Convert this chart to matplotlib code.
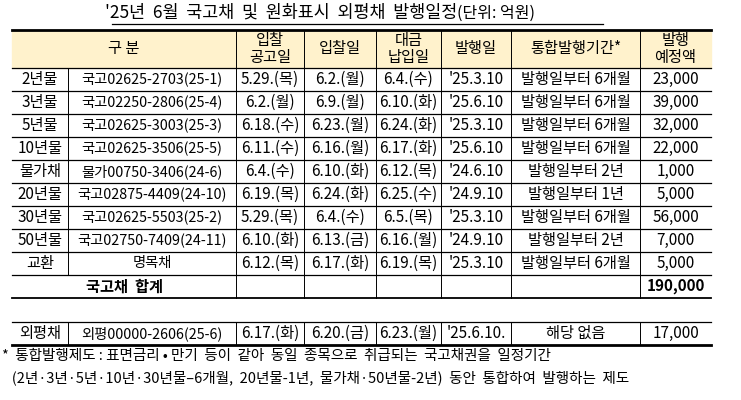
import matplotlib.pyplot as plt
from matplotlib.patches import Rectangle

plt.rcParams['font.family'] = ['Noto Sans CJK KR', 'DejaVu Sans']

title = "'25년  6월  국고채  및  원화표시  외평채  발행일정"
unit = "(단위: 억원)"
headers = ["구 분", "입찰\n공고일", "입찰일", "대금\n납입일", "발행일", "통합발행기간*", "발행\n예정액"]

terms = ["2년물", "3년물", "5년물", "10년물", "물가채", "20년물", "30년물", "50년물", "교환"]
issues = ["국고02625-2703(25-1)", "국고02250-2806(25-4)", "국고02625-3003(25-3)",
          "국고02625-3506(25-5)", "물가00750-3406(24-6)", "국고02875-4409(24-10)",
          "국고02625-5503(25-2)", "국고02750-7409(24-11)", "명목채"]
announce = ["5.29.(목)", "6.2.(월)", "6.18.(수)", "6.11.(수)", "6.4.(수)", "6.19.(목)",
            "5.29.(목)", "6.10.(화)", "6.12.(목)"]
auction = ["6.2.(월)", "6.9.(월)", "6.23.(월)", "6.16.(월)", "6.10.(화)", "6.24.(화)",
           "6.4.(수)", "6.13.(금)", "6.17.(화)"]
payment = ["6.4.(수)", "6.10.(화)", "6.24.(화)", "6.17.(화)", "6.12.(목)", "6.25.(수)",
           "6.5.(목)", "6.16.(월)", "6.19.(목)"]
issue_date = ["'25.3.10", "'25.6.10", "'25.3.10", "'25.6.10", "'24.6.10", "'24.9.10",
              "'25.3.10", "'24.9.10", "'25.3.10"]
period = ["발행일부터 6개월", "발행일부터 6개월", "발행일부터 6개월", "발행일부터 6개월",
          "발행일부터 2년", "발행일부터 1년", "발행일부터 6개월", "발행일부터 2년", "발행일부터 6개월"]
amount = ["23,000", "39,000", "32,000", "22,000", "1,000", "5,000", "56,000", "7,000", "5,000"]
total_label = "국고채  합계"
total_amount = "190,000"
fx_row = ["외평채", "외평00000-2606(25-6)", "6.17.(화)", "6.20.(금)", "6.23.(월)",
          "'25.6.10.", "해당 없음", "17,000"]
notes = ["*  통합발행제도 : 표면금리 • 만기  등이  같아  동일  종목으로  취급되는  국고채권을  일정기간",
         "   (2년·3년·5년·10년·30년물–6개월,  20년물-1년,  물가채·50년물-2년)  동안  통합하여  발행하는  제도"]

W, H = 741, 400
xs = [12, 68, 236, 304, 376, 441, 511, 640, 711]
hdr_top, hdr_bot, row_h = 30, 68, 23
fs = 11

fig = plt.figure(figsize=(W / 100, H / 100), dpi=100)
ax = fig.add_axes([0, 0, 1, 1])
ax.set_xlim(0, W)
ax.set_ylim(H, 0)
ax.axis('off')

def hline(y, lw=0.9):
    ax.plot([xs[0], xs[-1]], [y, y], color='black', lw=lw)

def vline(x, y0, y1):
    ax.plot([x, x], [y0, y1], color='black', lw=0.7)

def cell(i0, i1, y, s, size=fs, **kw):
    ax.text((xs[i0] + xs[i1]) / 2, y, s, ha='center', va='center', fontsize=size, **kw)

# title
ax.text(457, 13, title, ha='right', va='center', fontsize=12.5)
ax.text(457, 13, unit, ha='left', va='center', fontsize=11.5)
ax.plot([112, 603], [24, 24], color='black', lw=0.9)

# header
ax.add_patch(Rectangle((xs[0], hdr_top), xs[-1] - xs[0], hdr_bot - hdr_top, color='#FFF2CC', zorder=0))
hline(hdr_top, 2)
hline(hdr_bot)
hy = (hdr_top + hdr_bot) / 2
cell(0, 2, hy, headers[0])
for k in range(1, 7):
    vline(xs[k + 1], hdr_top, hdr_bot)
    cell(k + 1, k + 2, hy, headers[k], linespacing=1.05)

# body rows
cols = [terms, issues, announce, auction, payment, issue_date, period, amount]
y = hdr_bot
for r in range(len(terms)):
    yc = y + row_h / 2
    for c, col in enumerate(cols):
        cell(c, c + 1, yc, col[r], size=10.3 if c == 1 else fs)
    for k in range(1, 8):
        vline(xs[k], y, y + row_h)
    y += row_h
    hline(y)

# total row
yc = y + row_h / 2
cell(0, 2, yc, total_label, fontweight='bold')
cell(7, 8, yc, total_amount, fontweight='bold')
for k in range(2, 8):
    vline(xs[k], y, y + row_h)
y += row_h
hline(y, 1.3)

# fx row
y = 322
hline(y)
for c, s in enumerate(fx_row):
    cell(c, c + 1, y + row_h / 2, s, size=10.3 if c == 1 else fs)
for k in range(1, 8):
    vline(xs[k], y, y + row_h)
hline(y + row_h, 2)

for i, s in enumerate(notes):
    ax.text(2, 356 + 22 * i, s, ha='left', va='center', fontsize=10.5)

fig.savefig('out.png', dpi=100)
